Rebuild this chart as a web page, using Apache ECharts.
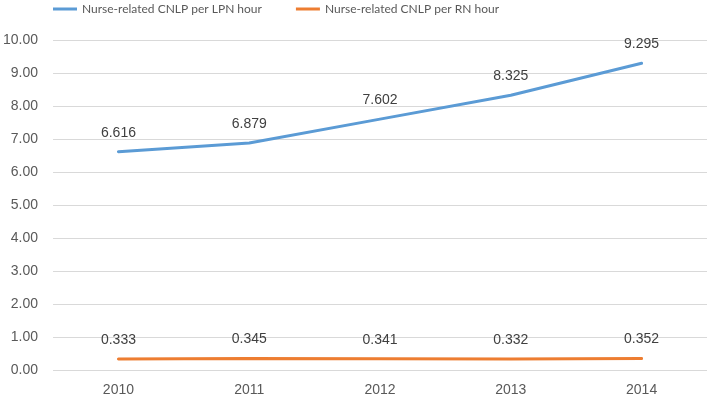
<!DOCTYPE html>
<html>
<head>
<meta charset="utf-8">
<script src="https://cdn.jsdelivr.net/npm/echarts@6/dist/echarts.min.js"></script>
<style>
  html, body { margin: 0; padding: 0; background: #fff; }
  #chart { width: 709px; height: 400px; }
</style>
</head>
<body>
<div id="chart"></div>
<script>
const years = ["2010", "2011", "2012", "2013", "2014"];
const lpnHour = [6.616, 6.879, 7.602, 8.325, 9.295];
const rnHour = [0.333, 0.345, 0.341, 0.332, 0.352];
const seriesNames = ["Nurse-related CNLP per LPN hour", "Nurse-related CNLP per RN hour"];

const fontFamily = "'Liberation Sans', sans-serif";
const chart = echarts.init(document.getElementById("chart"));

function lineSeries(name, data, color) {
  return {
    name: name,
    type: "line",
    data: data,
    symbol: "circle",
    symbolSize: 0,
    showSymbol: true,
    lineStyle: { color: color, width: 3, cap: "round" },
    itemStyle: { color: color },
    label: {
      show: true,
      position: "top",
      distance: 12,
      color: "#404040",
      fontSize: 14,
      formatter: function (p) { return p.value.toFixed(3); },
    },
  };
}

const option = {
  animation: false,
  textStyle: { fontFamily: fontFamily },
  legend: {
    top: -2,
    left: 48,
    itemWidth: 24,
    itemHeight: 3,
    itemGap: 34,
    icon: "rect",
    textStyle: { color: "#595959", fontSize: 12, fontFamily: "Lato, sans-serif" },
    data: seriesNames,
  },
  grid: {
    left: 50,
    right: 2,
    top: 40,
    bottom: 30,
    containLabel: false,
  },
  xAxis: {
    type: "category",
    data: years,
    boundaryGap: true,
    axisLine: { show: false },
    axisTick: { show: false },
    axisLabel: { color: "#595959", fontSize: 14, margin: 13 },
  },
  yAxis: {
    type: "value",
    min: 0,
    max: 10,
    interval: 1,
    axisLabel: {
      color: "#595959",
      fontSize: 14,
      margin: 15,
      formatter: function (v) { return v.toFixed(2); },
    },
    splitLine: { lineStyle: { color: "#d9d9d9", width: 1 } },
  },
  series: [
    lineSeries(seriesNames[0], lpnHour, "#5b9bd5"),
    lineSeries(seriesNames[1], rnHour, "#ed7d31"),
  ],
};

chart.setOption(option);
</script>
</body>
</html>
